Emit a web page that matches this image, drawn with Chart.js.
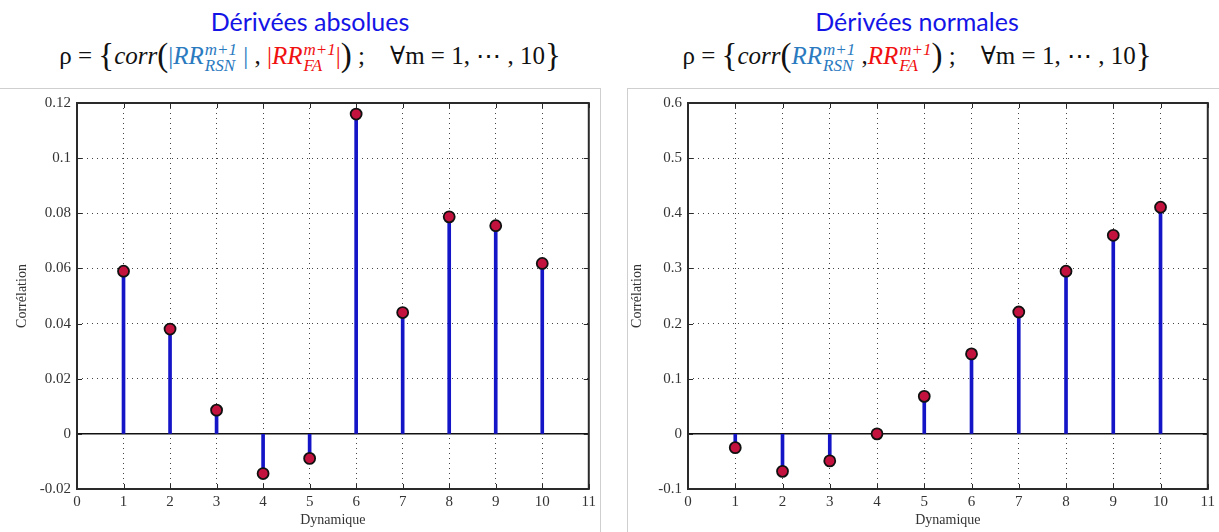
<!DOCTYPE html>
<html>
<head>
<meta charset="utf-8">
<script src="https://cdn.jsdelivr.net/npm/chart.js@4.4.1/dist/chart.umd.min.js"></script>
<style>
  body { margin: 0; background: #fff; width: 1219px; height: 532px; overflow: hidden; position: relative; }
  .hdr { position: absolute; top: 0; text-align: center; }
  .ttl { font-family: Lato, "Open Sans", sans-serif; font-size: 25px; color: #1414e6; line-height: 28px; padding-top: 7px; }
  .eq { font-family: "Liberation Serif", "DejaVu Serif", serif; font-size: 25px; color: #111; line-height: 36px; white-space: pre; margin-top: 2px; }
  .eq .big { font-size: 33px; vertical-align: -2px; }
  .ss { display: inline-block; vertical-align: -7px; line-height: 16px; font-size: 17px; text-align: left; font-style: italic; margin-left: 1px; }
  .ss span { display: block; }
  .blu { color: #2a7ac0; }
  .red { color: #f01010; }
  .frame { position: absolute; top: 88px; height: 444px; border-top: 1px solid #cfcfcf; box-sizing: border-box; }
  canvas { position: absolute; }
</style>
</head>
<body>
<div class="hdr" style="left:5px;width:610px">
  <div class="ttl">Dérivées absolues</div>
  <div class="eq">ρ = <span class="big">{</span><i>corr</i><span class="big">(</span><span class="blu">|<i>RR</i><span class="ss"><span>m+1</span><span>RSN</span></span> |</span> , <span class="red">|<i>RR</i><span class="ss"><span>m+1</span><span>FA</span></span>|</span><span class="big">)</span> ;    ∀m = 1, ⋯ , 10<span class="big">}</span></div>
</div>
<div class="hdr" style="left:612px;width:610px">
  <div class="ttl">Dérivées normales</div>
  <div class="eq">ρ = <span class="big">{</span><i>corr</i><span class="big">(</span><span class="blu"><i>RR</i><span class="ss"><span>m+1</span><span>RSN</span></span></span> ,<span class="red"><i>RR</i><span class="ss"><span>m+1</span><span>FA</span></span></span><span class="big">)</span> ;    ∀m = 1, ⋯ , 10<span class="big">}</span></div>
</div>

<div class="frame" style="left:0;width:601px;border-right:1px solid #cfcfcf"></div>
<div class="frame" style="left:627px;width:592px;border-left:1px solid #cfcfcf"></div>

<canvas id="absChart" width="600" height="444" style="left:0;top:88px"></canvas>
<canvas id="normChart" width="599" height="444" style="left:620px;top:88px"></canvas>

<script>
// ================= DATA =================
const dynamique = [1, 2, 3, 4, 5, 6, 7, 8, 9, 10];
const xTicks = [0, 1, 2, 3, 4, 5, 6, 7, 8, 9, 10, 11];

const absCorr = [0.059, 0.038, 0.0086, -0.0144, -0.0089, 0.116, 0.044, 0.0787, 0.0755, 0.0618];
const absTicks = [-0.02, 0, 0.02, 0.04, 0.06, 0.08, 0.1, 0.12];

const normCorr = [-0.025, -0.068, -0.049, 0.0, 0.068, 0.145, 0.221, 0.295, 0.36, 0.411];
const normTicks = [-0.1, 0, 0.1, 0.2, 0.3, 0.4, 0.5, 0.6];

const xTitle = "Dynamique";
const yTitle = "Corrélation";

// ================= BOX + INWARD TICKS =================
const boxPlugin = {
  id: "box",
  afterDraw(chart) {
    const { ctx, chartArea: a, scales } = chart;
    ctx.save();
    ctx.strokeStyle = "#2a2a2a";
    ctx.lineWidth = 1;
    ctx.beginPath();
    scales.x.ticks.forEach((t) => {
      const px = Math.round(scales.x.getPixelForValue(t.value)) + 0.5;
      ctx.moveTo(px, a.bottom);
      ctx.lineTo(px, a.bottom - 5);
      ctx.moveTo(px, a.top);
      ctx.lineTo(px, a.top + 5);
    });
    scales.y.ticks.forEach((t) => {
      const py = Math.round(scales.y.getPixelForValue(t.value)) + 0.5;
      ctx.moveTo(a.left, py);
      ctx.lineTo(a.left + 5, py);
      ctx.moveTo(a.right, py);
      ctx.lineTo(a.right - 5, py);
    });
    ctx.stroke();
    ctx.lineWidth = 2;
    ctx.strokeRect(a.left, a.top, a.right - a.left, a.bottom - a.top);
    ctx.restore();
  },
};

// ================= STEM CHART FUNCTION =================
function createStemChart(canvasId, values, yTicks, yWidth, rightPad, titlePad) {
  const canvas = document.getElementById(canvasId);
  if (!canvas) return;

  const yMin = yTicks[0];
  const yMax = yTicks[yTicks.length - 1];
  const points = dynamique.map((x, i) => ({ x: x, y: values[i] }));

  return new Chart(canvas, {
    type: "bar",
    data: {
      datasets: [
        {
          type: "line",
          data: [{ x: xTicks[0], y: 0 }, { x: xTicks[xTicks.length - 1], y: 0 }],
          borderColor: "#111",
          borderWidth: 1.5,
          pointRadius: 0,
          order: 3,
        },
        {
          type: "bar",
          data: points,
          backgroundColor: "#1515c8",
          barThickness: 3,
          order: 2,
        },
        {
          type: "line",
          data: points,
          showLine: false,
          pointRadius: 5.5,
          pointBackgroundColor: "#c4123e",
          pointBorderColor: "#111",
          pointBorderWidth: 1.8,
          order: 1,
        },
      ],
    },
    options: {
      responsive: false,
      animation: false,
      layout: { padding: { left: 0, right: rightPad, top: 9, bottom: 0 } },
      plugins: { legend: { display: false }, tooltip: { enabled: false } },
      scales: {
        x: {
          type: "linear",
          min: xTicks[0],
          max: xTicks[xTicks.length - 1],
          offset: false,
          afterBuildTicks: (s) => {
            s.ticks = xTicks.map((v) => ({ value: v }));
          },
          afterFit: (s) => {
            s.height = 43;
          },
          ticks: {
            autoSkip: false,
            maxRotation: 0,
            padding: 4,
            color: "#333",
            font: { family: "Liberation Serif", size: 15 },
          },
          grid: { color: "#444", lineWidth: 1, drawTicks: false, offset: false },
          border: { display: false, dash: [1, 4] },
          title: {
            display: true,
            text: xTitle,
            color: "#333",
            font: { family: "Liberation Serif", size: 14 },
            padding: { top: 0, bottom: 3 },
          },
        },
        y: {
          min: yMin,
          max: yMax,
          afterBuildTicks: (s) => {
            s.ticks = yTicks.map((v) => ({ value: v }));
          },
          afterFit: (s) => {
            s.width = yWidth;
          },
          ticks: {
            autoSkip: false,
            padding: 6,
            color: "#333",
            font: { family: "Liberation Serif", size: 15 },
            callback: (v) => String(+v.toFixed(2)),
          },
          grid: { color: "#444", lineWidth: 1, drawTicks: false },
          border: { display: false, dash: [1, 4] },
          title: {
            display: true,
            text: yTitle,
            color: "#333",
            font: { family: "Liberation Serif", size: 14 },
            padding: { top: titlePad, bottom: 0 },
          },
        },
      },
    },
    plugins: [boxPlugin],
  });
}

createStemChart("absChart", absCorr, absTicks, 77, 8, 14);
createStemChart("normChart", normCorr, normTicks, 68, 9, 9);
</script>
</body>
</html>
